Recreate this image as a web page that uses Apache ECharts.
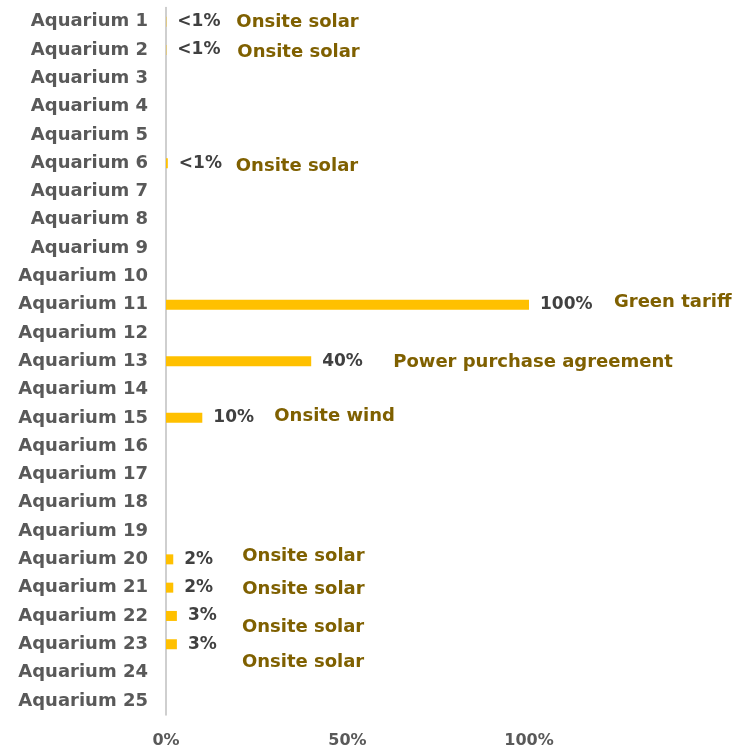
<!DOCTYPE html>
<html>
<head>
<meta charset="utf-8">
<script src="https://cdn.jsdelivr.net/npm/echarts@6/dist/echarts.min.js"></script>
<style>
  html, body { margin: 0; padding: 0; background: #ffffff; }
  #chart { width: 736px; height: 749px; }
</style>
</head>
<body>
<div id="chart"></div>
<script>
// Share of electricity from renewable sources, per aquarium
const categories = [
  'Aquarium 1', 'Aquarium 2', 'Aquarium 3', 'Aquarium 4', 'Aquarium 5',
  'Aquarium 6', 'Aquarium 7', 'Aquarium 8', 'Aquarium 9', 'Aquarium 10',
  'Aquarium 11', 'Aquarium 12', 'Aquarium 13', 'Aquarium 14', 'Aquarium 15',
  'Aquarium 16', 'Aquarium 17', 'Aquarium 18', 'Aquarium 19', 'Aquarium 20',
  'Aquarium 21', 'Aquarium 22', 'Aquarium 23', 'Aquarium 24', 'Aquarium 25'
];
const shares = [
  0.1, 0.1, null, null, null,
  0.5, null, null, null, null,
  100, null, 40, null, 10,
  null, null, null, null, 2,
  2, 3, 3, null, null
];
const shareLabels = [
  '<1%', '<1%', '', '', '',
  '<1%', '', '', '', '',
  '100%', '', '40%', '', '10%',
  '', '', '', '', '2%',
  '2%', '3%', '3%', '', ''
];
const sources = [
  'Onsite solar', 'Onsite solar', '', '', '',
  'Onsite solar', '', '', '', '',
  'Green tariff', '', 'Power purchase agreement', '', 'Onsite wind',
  '', '', '', '', 'Onsite solar',
  'Onsite solar', 'Onsite solar', 'Onsite solar', '', ''
];
const xTicks = [0, 50, 100];

// Nudges for the source captions, [dx, dy] in pixels past the bar end
const sourceNudge = {
  0: [59, 1], 1: [60, 2], 5: [57, 3],
  10: [74, -2], 12: [71, 1], 14: [61, -2],
  19: [58, -3], 20: [58, 2], 21: [54, 11], 22: [54, 18]
};

const FONT = '"DejaVu Sans", "Noto Sans", sans-serif';

const chart = echarts.init(document.getElementById('chart'));

const valueData = shares.map((v, i) => ({
  value: v,
  label: { formatter: shareLabels[i] }
}));

const sourceData = shares.map((v, i) => {
  const n = sourceNudge[i] || [0, 0];
  return {
    value: v,
    label: { formatter: sources[i], offset: n }
  };
});

chart.setOption({
  animation: false,
  backgroundColor: '#ffffff',
  grid: { left: 166, top: 7.5, width: 544.5, height: 710, containLabel: false },
  xAxis: {
    type: 'value',
    min: 0,
    max: 150,
    interval: 50,
    axisLine: { show: false },
    axisTick: { show: false },
    splitLine: { show: false },
    axisLabel: {
      margin: 18,
      color: '#595959',
      fontFamily: FONT,
      fontWeight: 'bold',
      fontSize: 16,
      formatter: v => (xTicks.includes(v) ? v + '%' : '')
    }
  },
  yAxis: {
    type: 'category',
    data: categories,
    inverse: true,
    axisLine: { show: true, lineStyle: { color: '#BFBFBF', width: 1.5 } },
    axisTick: { show: false },
    axisLabel: {
      margin: 18,
      color: '#595959',
      fontFamily: FONT,
      fontWeight: 'bold',
      fontSize: 18
    }
  },
  series: [
    {
      type: 'bar',
      data: valueData,
      barWidth: 10,
      itemStyle: { color: '#FFC000' },
      label: {
        show: true,
        position: 'right',
        distance: 11,
        color: '#404040',
        fontFamily: FONT,
        fontWeight: 'bold',
        fontSize: 17
      },
      z: 3
    },
    {
      type: 'bar',
      data: sourceData,
      barWidth: 10,
      barGap: '-100%',
      itemStyle: { color: 'rgba(0,0,0,0)' },
      label: {
        show: true,
        position: 'right',
        distance: 11,
        color: '#7F6000',
        fontFamily: FONT,
        fontWeight: 'bold',
        fontSize: 18
      },
      z: 2
    }
  ]
});
</script>
</body>
</html>
